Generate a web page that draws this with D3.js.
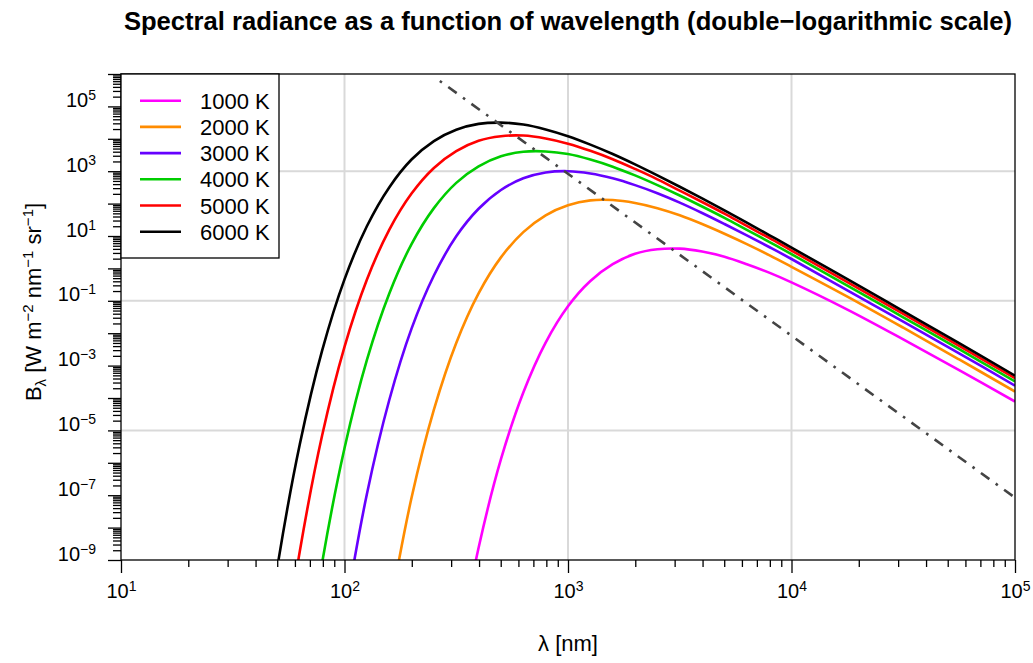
<!DOCTYPE html>
<html>
<head>
<meta charset="utf-8">
<script src="https://cdn.jsdelivr.net/npm/d3@7"></script>
<style>
  body { margin: 0; background: #fff; }
  text { font-family: "Liberation Sans", Arial, sans-serif; fill: #000; }
</style>
</head>
<body>
<div id="chart"></div>
<script>
const lambdaNm = [39.8, 50.1, 63.1, 79.4, 100, 125.9, 158.5, 199.5, 251.2, 316.2,
                  398.1, 501.2, 631.0, 794.3, 1000, 1259, 1585, 1995, 2512, 3162,
                  3981, 5012, 6310, 7943, 10000, 17783, 31623, 56234, 100000];

// log10 of spectral radiance B [W m^-2 nm^-1 sr^-1], one array per temperature
const logB1000 = [null, null, null, null, null, null, null, null, null, -12.18,
                  -8.62, -5.89, -3.83, -2.29, -1.17, -0.39, 0.13, 0.45, 0.59, 0.61,
                  0.52, 0.36, 0.13, -0.13, -0.43, -1.27, -2.19, -3.14, -4.11];
const logB2000 = [null, null, null, null, null, null, -10.64, -7.08, -4.36, -2.30,
                  -0.77, 0.34, 1.12, 1.64, 1.95, 2.10, 2.11, 2.02, 1.86, 1.64,
                  1.37, 1.07, 0.75, 0.41, 0.05, -0.87, -1.83, -2.81, -3.80];
const logB3000 = [null, null, null, null, -10.75, -6.97, -4.07, -1.86, -0.22, 0.99,
                  1.84, 2.42, 2.78, 2.96, 3.00, 2.93, 2.78, 2.57, 2.32, 2.03,
                  1.71, 1.37, 1.02, 0.66, 0.29, -0.68, -1.64, -2.62, -3.62];
const logB4000 = [null, null, -13.68, -9.09, -5.55, -2.83, -0.78, 0.75, 1.86, 2.64,
                  3.15, 3.46, 3.60, 3.61, 3.53, 3.36, 3.14, 2.87, 2.57, 2.25,
                  1.91, 1.56, 1.19, 0.82, 0.44, -0.53, -1.51, -2.49, -3.49];
const logB5000 = [null, -13.36, -8.73, -5.16, -2.42, -0.35, 1.19, 2.31, 3.10, 3.62,
                  3.94, 4.08, 4.10, 4.01, 3.85, 3.63, 3.37, 3.07, 2.75, 2.40,
                  2.05, 1.69, 1.31, 0.94, 0.55, -0.42, -1.40, -2.39, -3.39];
const logB6000 = [-14.08, -9.21, -5.43, -2.54, -0.34, 1.30, 2.50, 3.36, 3.93, 4.28,
                  4.46, 4.50, 4.44, 4.29, 4.08, 3.82, 3.53, 3.21, 2.87, 2.52,
                  2.16, 1.79, 1.41, 1.03, 0.64, -0.33, -1.32, -2.31, -3.31];

const tempLabels = ['1000 K', '2000 K', '3000 K', '4000 K', '5000 K', '6000 K'];
const tempColors = ['#FF00FF', '#FF8C00', '#6600FF', '#00CD00', '#FF0000', '#000000'];
const seriesLogB = [logB1000, logB2000, logB3000, logB4000, logB5000, logB6000];

// Wien displacement line (peak locus), two ends
const wienLambda = [267, 100000];
const wienB = [6.1e5, 8.4e-8];

const xMajor = [1e1, 1e2, 1e3, 1e4, 1e5];
const yMajor = d3.range(-9, 7).map(e => Math.pow(10, e));
const yLabelExp = [5, 3, 1, -1, -3, -5, -7, -9];
const xGrid = [1e2, 1e3, 1e4];
const yGrid = [1e3, 1e-1, 1e-5];

const width = 1033, height = 663;
const mLeft = 121, mRight = 1015, mTop = 74, mBottom = 560;

const svg = d3.select('#chart').append('svg')
    .attr('width', width).attr('height', height);

const x = d3.scaleLog().domain([10, 1e5]).range([mLeft, mRight]);
const y = d3.scaleLog().domain([1e-9, 1e6]).range([mBottom, mTop]);

svg.append('defs').append('clipPath').attr('id', 'plotclip')
   .append('rect').attr('x', mLeft).attr('y', mTop)
   .attr('width', mRight - mLeft).attr('height', mBottom - mTop);

// grid
svg.append('g').selectAll('line').data(xGrid).enter().append('line')
   .attr('x1', d => x(d)).attr('x2', d => x(d))
   .attr('y1', mTop).attr('y2', mBottom)
   .style('stroke', '#d9d9d9').style('stroke-width', 2);
svg.append('g').selectAll('line').data(yGrid).enter().append('line')
   .attr('x1', mLeft).attr('x2', mRight)
   .attr('y1', d => y(d)).attr('y2', d => y(d))
   .style('stroke', '#d9d9d9').style('stroke-width', 2);

// curves
const line = d3.line()
    .defined(d => d.b !== null)
    .x(d => x(d.l))
    .y(d => y(Math.pow(10, d.b)))
    .curve(d3.curveCatmullRom.alpha(0.5));

const plot = svg.append('g').attr('clip-path', 'url(#plotclip)');

seriesLogB.forEach((arr, i) => {
  const pts = lambdaNm.map((l, j) => ({l: l, b: arr[j]}));
  plot.append('path')
      .datum(pts)
      .attr('d', line)
      .style('fill', 'none')
      .style('stroke', tempColors[i])
      .style('stroke-width', 2.6);
});

plot.append('path')
    .datum(wienLambda.map((l, j) => ({l: l, b: Math.log10(wienB[j])})))
    .attr('d', line.curve(d3.curveLinear))
    .style('fill', 'none')
    .style('stroke', '#444')
    .style('stroke-width', 2.6)
    .style('stroke-dasharray', '2.6,7.8,10.4,7.8');

// axes
function minorTicks(lo, hi) {
  const out = [];
  for (let e = lo; e < hi; e++) for (let k = 2; k <= 9; k++) out.push(k * Math.pow(10, e));
  return out;
}

const xMinor = svg.append('g').attr('transform', 'translate(0,' + mBottom + ')')
    .call(d3.axisBottom(x).tickValues(minorTicks(1, 5)).tickSize(7).tickFormat(''));
const xAxisG = svg.append('g').attr('transform', 'translate(0,' + mBottom + ')')
    .call(d3.axisBottom(x).tickValues(xMajor).tickSize(13).tickFormat(''));

const yMinor = svg.append('g').attr('transform', 'translate(' + mLeft + ',0)')
    .call(d3.axisLeft(y).tickValues(minorTicks(-9, 6)).tickSize(8).tickFormat(''));
const yAxisG = svg.append('g').attr('transform', 'translate(' + mLeft + ',0)')
    .call(d3.axisLeft(y).tickValues(yMajor).tickSize(13).tickFormat(''));

[xMinor, xAxisG, yMinor, yAxisG].forEach(g => {
  g.selectAll('.domain').remove();
  g.selectAll('.tick line').style('stroke', '#000').style('stroke-width', 1.3);
});

xAxisG.selectAll('.tick text').each(function(d) {
  const t = d3.select(this).attr('y', 38).attr('dy', null)
      .style('font-size', '20px').style('text-anchor', 'middle');
  t.append('tspan').text('10');
  t.append('tspan').attr('dy', -7).style('font-size', '14px').text(Math.round(Math.log10(d)));
});

yAxisG.selectAll('.tick text').each(function(d) {
  const e = Math.round(Math.log10(d));
  if (yLabelExp.indexOf(e) < 0) return;
  const t = d3.select(this).attr('x', -25).attr('dy', null).attr('y', 0)
      .style('font-size', '20px').style('text-anchor', 'end');
  t.append('tspan').text('10');
  t.append('tspan').attr('dy', -7).style('font-size', '14px').text(String(e).replace('-', '\u2212'));
});

// box
svg.append('rect').attr('x', mLeft).attr('y', mTop)
   .attr('width', mRight - mLeft).attr('height', mBottom - mTop)
   .style('fill', 'none').style('stroke', '#000').style('stroke-width', 1.3);

// legend
const leg = svg.append('g');
leg.append('rect').attr('x', mLeft).attr('y', mTop).attr('width', 158).attr('height', 184)
   .style('fill', '#fff').style('stroke', '#000').style('stroke-width', 1.3);
tempLabels.forEach((lab, i) => {
  const yy = mTop + 26.7 + i * 26.2;
  leg.append('line').attr('x1', mLeft + 19).attr('x2', mLeft + 60)
     .attr('y1', yy).attr('y2', yy)
     .style('stroke', tempColors[i]).style('stroke-width', 2.6);
  leg.append('text').attr('x', mLeft + 79).attr('y', yy + 8)
     .style('font-size', '22px').text(lab);
});

// titles
svg.append('text').attr('x', (mLeft + mRight) / 2).attr('y', 30)
   .style('text-anchor', 'middle').style('font-weight', 'bold').style('font-size', '25.6px')
   .text('Spectral radiance as a function of wavelength (double\u2212logarithmic scale)');

svg.append('text').attr('x', (mLeft + mRight) / 2).attr('y', 651)
   .style('text-anchor', 'middle').style('font-size', '22px')
   .text('\u03bb [nm]');

const yl = svg.append('text').attr('transform', 'translate(41,302) rotate(-90)')
   .style('text-anchor', 'middle').style('font-size', '22px');
yl.append('tspan').text('B');
yl.append('tspan').attr('dy', 5).style('font-size', '15px').text('\u03bb');
yl.append('tspan').attr('dy', -5).text(' [W m');
yl.append('tspan').attr('dy', -8).style('font-size', '15px').text('\u22122');
yl.append('tspan').attr('dy', 8).text(' nm');
yl.append('tspan').attr('dy', -8).style('font-size', '15px').text('\u22121');
yl.append('tspan').attr('dy', 8).text(' sr');
yl.append('tspan').attr('dy', -8).style('font-size', '15px').text('\u22121');
yl.append('tspan').attr('dy', 8).text(']');
</script>
</body>
</html>
